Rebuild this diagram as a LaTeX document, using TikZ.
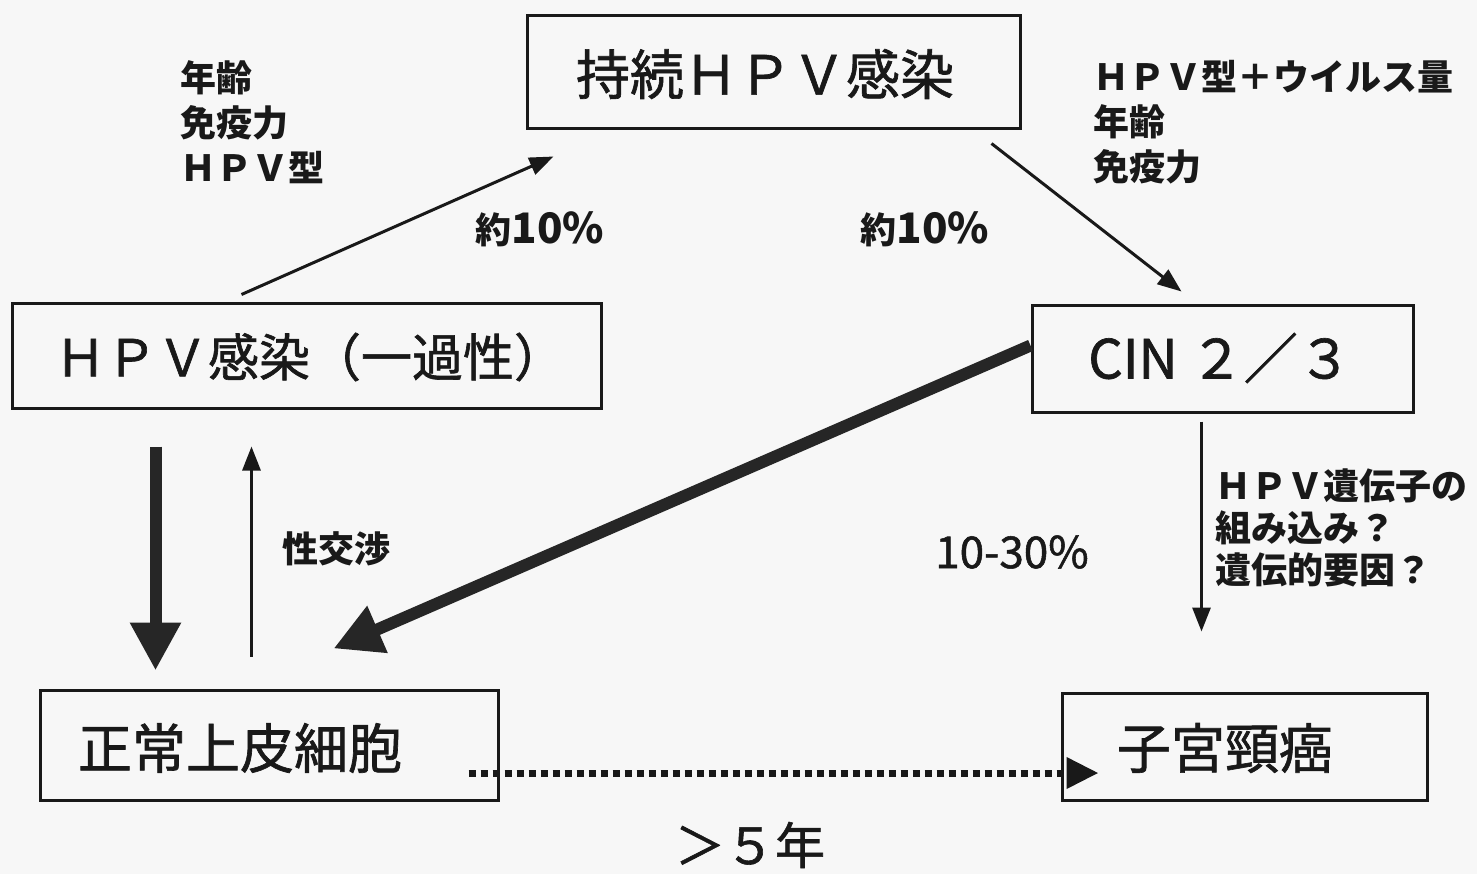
\documentclass[tikz,border=0pt]{standalone}
\usepackage{fontspec}
\setmainfont{Noto Sans CJK JP}
\newfontfamily\boxfont[FakeBold=1.2]{Noto Sans CJK JP}
\usetikzlibrary{arrows.meta,calc}
\begin{document}
\begin{tikzpicture}[x=0.5pt,y=-0.5pt,
  box/.style={draw=black!90, line width=1.5pt, inner sep=0, fill=none},
  boxtext/.style={font=\boxfont\fontsize{27pt}{32pt}\selectfont, inner sep=0, text=black!90},
  lbl/.style={font=\fontsize{18pt}{22.5pt}\selectfont\bfseries, inner sep=0, align=left, text=black!90},
  thinarrow/.style={draw=black!90, line width=1.5pt, -{Triangle[length=12pt,width=9pt]}},
  thickarrow/.style={draw=black!85, line width=6pt, -{Triangle[length=24pt,width=24pt]}},
  dotarrow/.style={draw=black!90, line width=3.5pt, dash pattern=on 3.5pt off 2.5pt, -{Triangle[length=16pt,width=15pt]}}
]
\fill[black!3] (0,0) rectangle (1477,874);
\useasboundingbox (0,0) rectangle (1477,874);

% boxes
\node[box, minimum width=246.5pt, minimum height=56.5pt] (persist) at (773.5,71.5) {};
\node[boxtext] (persistT) at (765,74) {持続ＨＰＶ感染};
\node[box, minimum width=294.5pt, minimum height=52.5pt] (hpv1) at (306.5,355.5) {};
\node[boxtext, font=\boxfont\fontsize{25.5pt}{30pt}\selectfont] (hpv1T) at (310,357) {ＨＰＶ感染（一過性）};
\node[box, minimum width=190.5pt, minimum height=53.5pt] (cin) at (1222.5,358.5) {};
\node[boxtext] (cinT) at (1220,358) {CIN ２／３};
\node[box, minimum width=229pt, minimum height=55pt] (normal) at (269,745) {};
\node[boxtext] (normalT) at (240,748) {正常上皮細胞};
\node[box, minimum width=182.5pt, minimum height=53.5pt] (cancer) at (1244.5,746.5) {};
\node[boxtext] (cancerT) at (1225,748) {子宮頸癌};

% labels
\node[lbl, anchor=north west] (f1) at (180,60) {年齢\\免疫力\\ＨＰＶ型};
\node[lbl] (p1) at (540,229) {約{\fontsize{21pt}{24pt}\selectfont 10\%}};
\node[lbl] (p2) at (925,229) {約{\fontsize{21pt}{24pt}\selectfont 10\%}};
\node[lbl, anchor=north west] (f2) at (1093,60) {ＨＰＶ型＋ウイルス量\\年齢\\免疫力};
\node[lbl, anchor=west] (sex) at (282,549) {性交渉};
\node[lbl, font=\boxfont\fontsize{22pt}{26pt}\selectfont] (p3) at (1012,552) {10-30\%};
\node[lbl, anchor=north west, font=\fontsize{18pt}{21pt}\selectfont\bfseries] (f3) at (1215,468) {ＨＰＶ遺伝子の\\組み込み？\\遺伝的要因？};
\node[boxtext, font=\boxfont\fontsize{25pt}{30pt}\selectfont] (yrs) at (750,845) {＞５年};

% connectors
\draw[thinarrow] ($(hpv1.north west)+(231,-7)$) -- ($(persist.south west)+(28,27)$);
\draw[thinarrow] ($(persist.south east)+(-30,14)$) -- ($(cin.north west)+(151,-12)$);
\draw[thickarrow] ($(cin.west)+(0,-13)$) -- ($(normal.north west)+(295,-40)$);
\draw[thickarrow] ($(hpv1.south west)+(145,37)$) -- ($(normal.north west)+(117,-18)$);
\draw[thinarrow] ($(normal.north west)+(213,-32)$) -- ($(hpv1.south west)+(241,37)$);
\draw[thinarrow] ($(cin.south west)+(171,8)$) -- ($(cancer.north west)+(141,-60)$);
\draw[dotarrow] ($(normal.east)+(-31,28)$) -- ($(cancer.west)+(38,26.5)$);
\end{tikzpicture}
\end{document}
